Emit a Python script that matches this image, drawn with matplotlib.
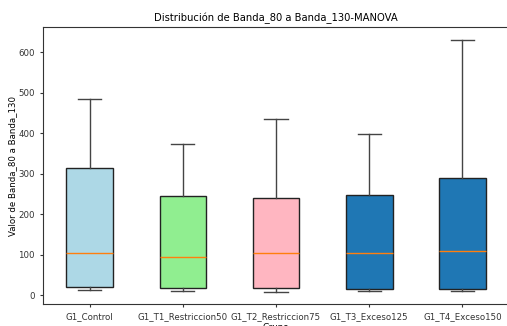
import matplotlib
matplotlib.use("Agg")
import matplotlib.pyplot as plt

categories = ["G1_Control", "G1_T1_Restriccion50", "G1_T2_Restriccion75", "G1_T3_Exceso125", "G1_T4_Exceso150"]
whislo = [12, 10, 8, 10, 10]
q1 = [19, 16.5, 16.5, 15, 16]
med = [105, 94, 103, 103, 109]
q3 = [315, 245, 239, 247, 288]
whishi = [485, 374, 435, 397, 631]
colors = ["lightblue", "lightgreen", "lightpink", "#1f77b4", "#1f77b4"]

fig = plt.figure(figsize=(5.07, 3.26), dpi=100)
ax = fig.add_axes([43/507, 22/326, 466/507, 277/326])

stats = []
for i, c in enumerate(categories):
    stats.append(dict(label=c, whislo=whislo[i], q1=q1[i], med=med[i], q3=q3[i], whishi=whishi[i], fliers=[]))

bp = ax.bxp(stats, widths=0.5, patch_artist=True,
            boxprops=dict(edgecolor="#222222", linewidth=1),
            whiskerprops=dict(color="#444444", linewidth=1),
            capprops=dict(color="#444444", linewidth=1),
            medianprops=dict(color="#ff7f0e", linewidth=1))
for patch, col in zip(bp["boxes"], colors):
    patch.set_facecolor(col)

ax.set_xlim(0.5, 5.5)
ax.set_ylim(-22, 662)
ax.set_yticks([0, 100, 200, 300, 400, 500, 600])
ax.tick_params(labelsize=6.2, length=2.5, colors="#333333")
ax.set_title("Distribución de Banda_80 a Banda_130-MANOVA", fontsize=7.2, pad=4)
ax.set_ylabel("Valor de Banda_80 a Banda_130", fontsize=6.2, labelpad=1)
ax.set_xlabel("Grupo", fontsize=6.2, labelpad=1)
for s in ax.spines.values():
    s.set_color("#333333")
    s.set_linewidth(0.8)

fig.savefig("out.png", dpi=100)
